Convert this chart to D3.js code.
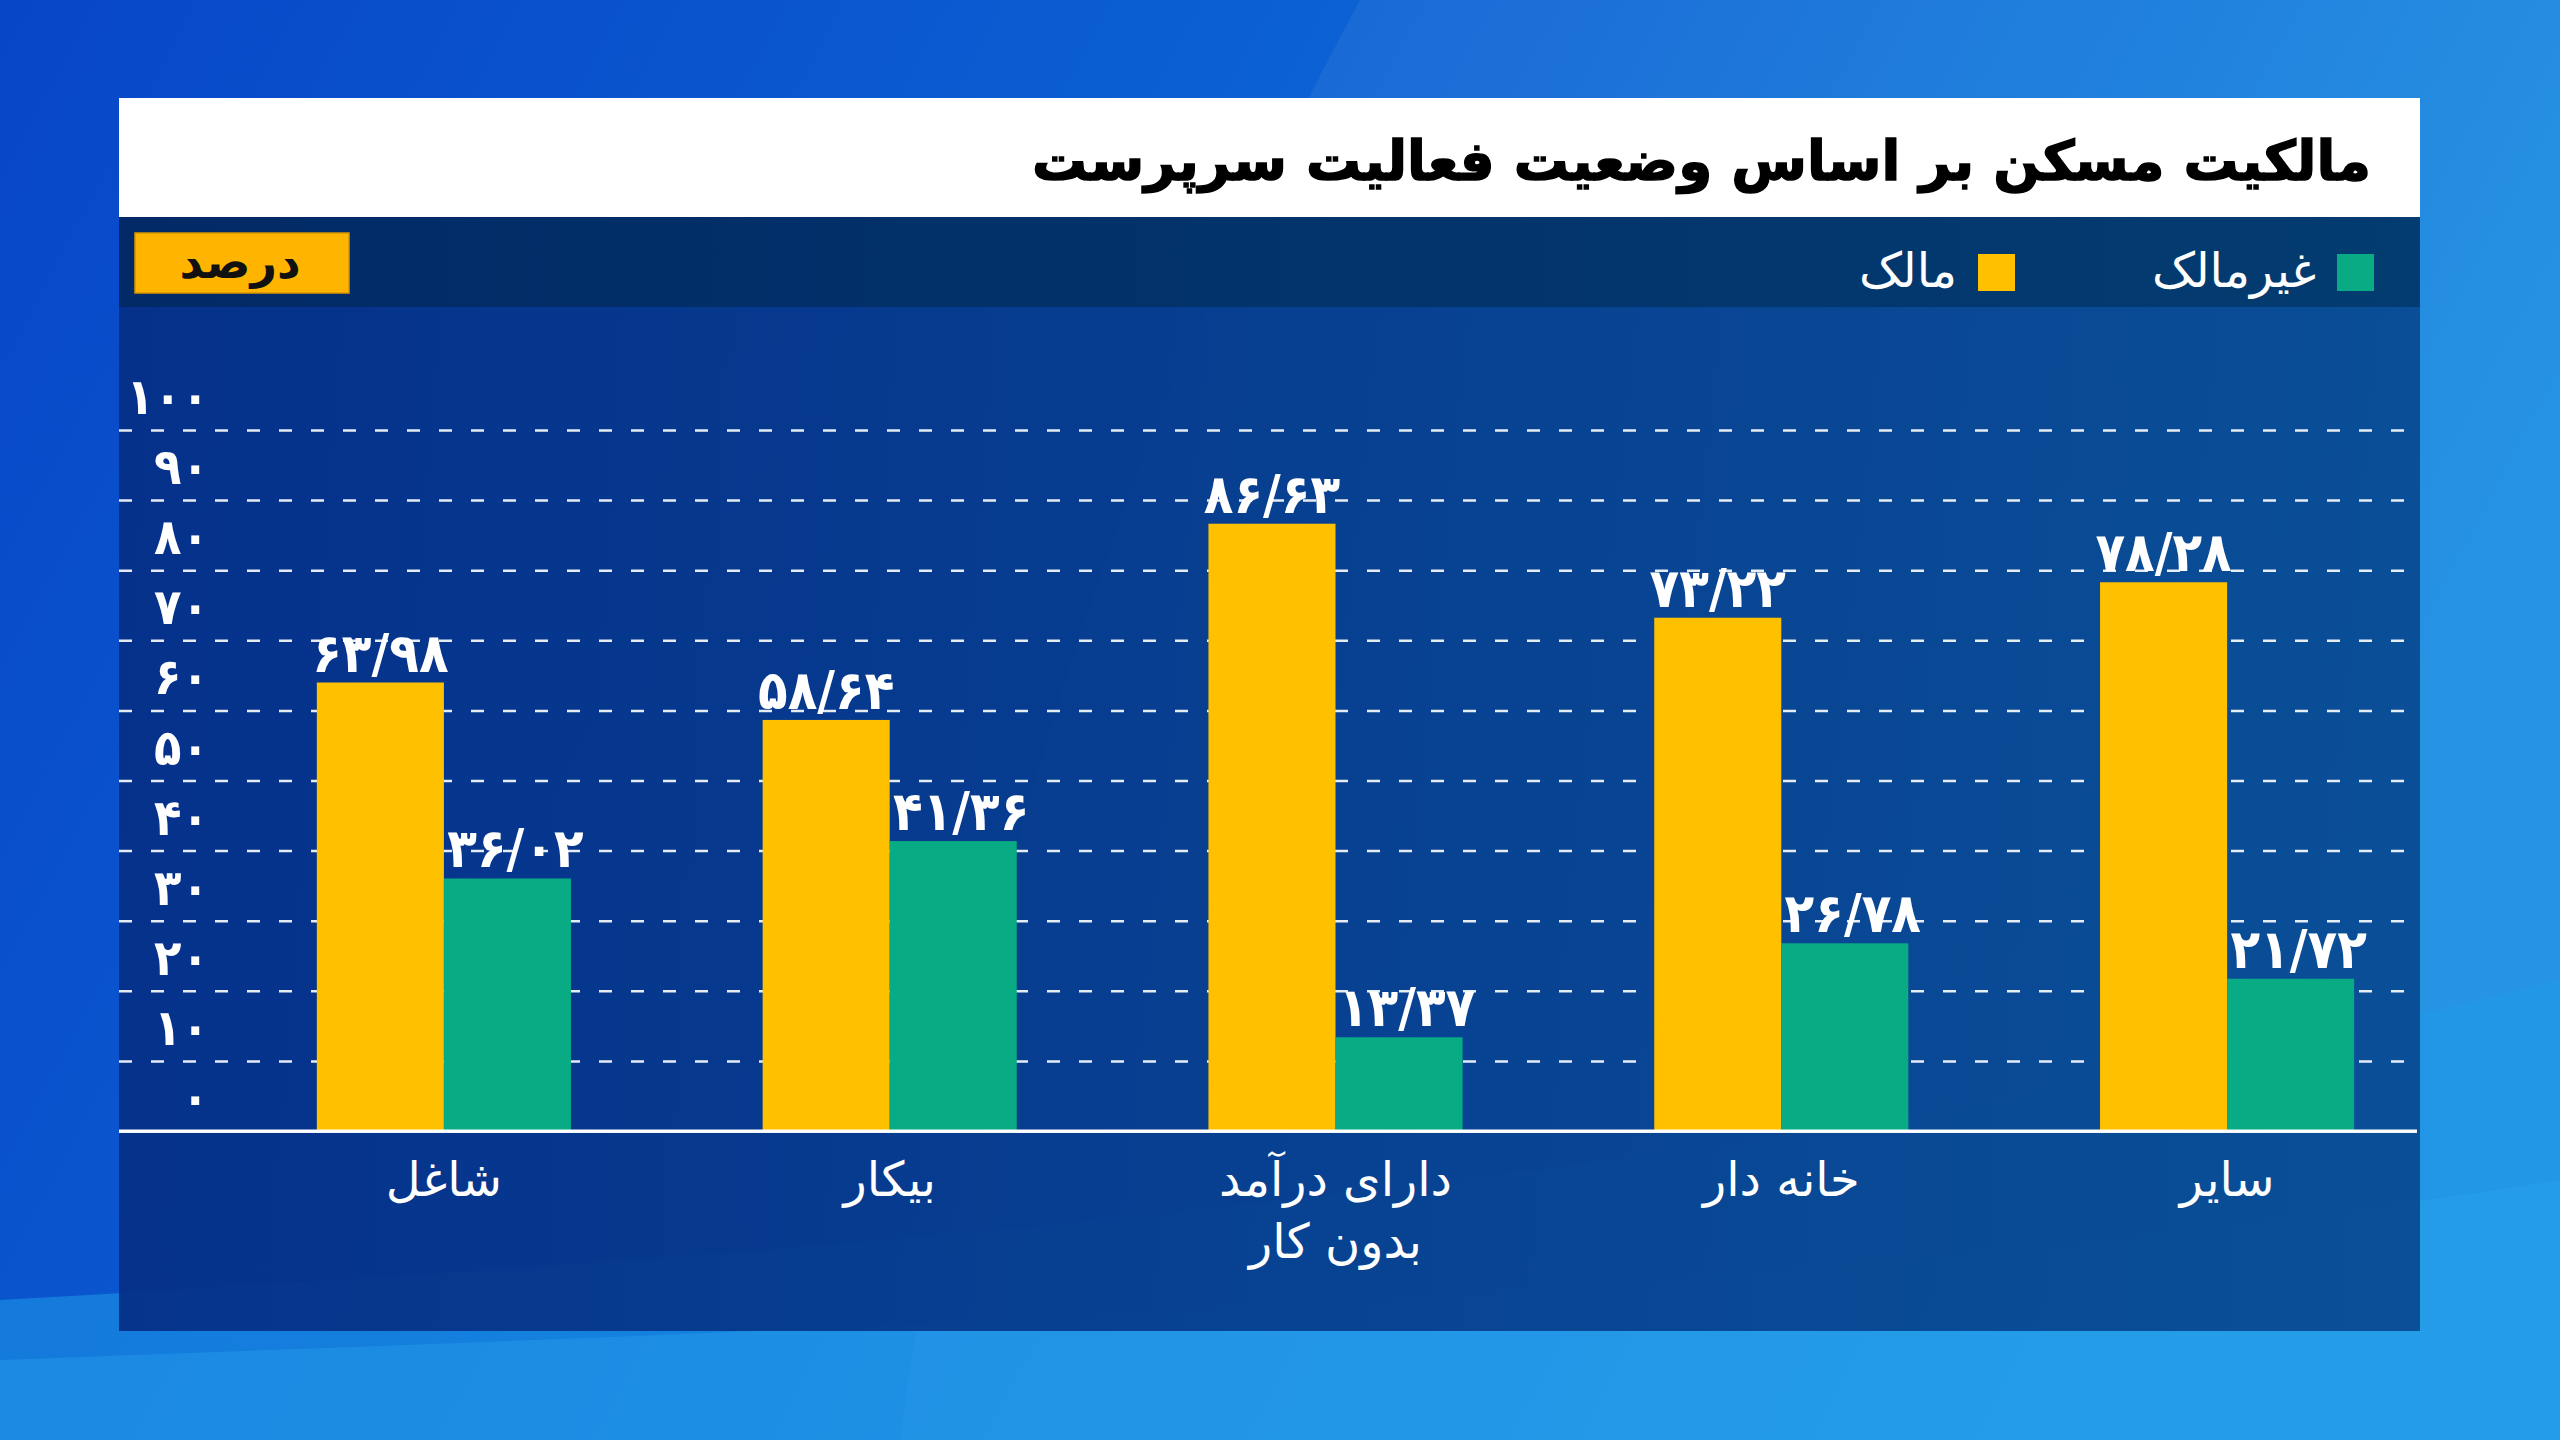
<!DOCTYPE html>
<html>
<head>
<meta charset="utf-8" />
<title>مالکیت مسکن</title>
<script src="https://cdn.jsdelivr.net/npm/d3@7"></script>
<style>
  body { margin: 0; background: #0a55d0; }
  svg { display: block; font-family: "DejaVu Sans", sans-serif; }
  .num { font-family: "DejaVu Sans Condensed", "DejaVu Sans", sans-serif; }
</style>
</head>
<body>
<script>
  // data
  var categories = ["شاغل", "بیکار", "دارای درآمد\nبدون کار", "خانه دار", "سایر"];
  var seriesNames = ["مالک", "غیرمالک"];
  var owner = [63.98, 58.64, 86.63, 73.22, 78.28];
  var nonOwner = [36.02, 41.36, 13.37, 26.78, 21.72];
  var yTicks = [0, 10, 20, 30, 40, 50, 60, 70, 80, 90, 100];
  var title = "مالکیت مسکن بر اساس وضعیت فعالیت سرپرست";
  var unitLabel = "درصد";

  var colors = { "مالک": "#ffc000", "غیرمالک": "#08ab83" };

  // persian digits
  function fa(s) {
    return String(s).replace(/[0-9]/g, function (d) { return "۰۱۲۳۴۵۶۷۸۹"[+d]; });
  }

  var W = 2560, H = 1440;
  var svg = d3.select("body").append("svg")
      .attr("width", W)
      .attr("height", H);

  var defs = svg.append("defs");
  var bg = defs.append("linearGradient").attr("id", "bg")
      .attr("x1", 0).attr("y1", 0).attr("x2", 1).attr("y2", 0.3);
  bg.append("stop").attr("offset", "0").attr("stop-color", "#0846c8");
  bg.append("stop").attr("offset", "0.5").attr("stop-color", "#0c62d4");
  bg.append("stop").attr("offset", "1").attr("stop-color", "#1a8de2");

  var body = defs.append("linearGradient").attr("id", "body")
      .attr("x1", 0).attr("y1", 0).attr("x2", 1).attr("y2", 0);
  body.append("stop").attr("offset", "0").attr("stop-color", "#052f86").attr("stop-opacity", 0.93);
  body.append("stop").attr("offset", "1").attr("stop-color", "#07478f").attr("stop-opacity", 0.9);

  var band = defs.append("linearGradient").attr("id", "band")
      .attr("x1", 0).attr("y1", 0).attr("x2", 1).attr("y2", 0);
  band.append("stop").attr("offset", "0").attr("stop-color", "#022a66");
  band.append("stop").attr("offset", "1").attr("stop-color", "#033c70");

  // background with soft swooshes
  svg.append("rect").attr("width", W).attr("height", H).attr("fill", "url(#bg)");
  svg.append("path")
      .attr("d", "M1360,0 C1200,300 1000,700 900,1440 L2560,1440 L2560,0 Z")
      .attr("fill", "#ffffff").attr("opacity", 0.06);
  svg.append("path")
      .attr("d", "M0,1300 C700,1260 1700,1200 2560,980 L2560,1440 L0,1440 Z")
      .attr("fill", "#1d9be8").attr("opacity", 0.55);
  svg.append("path")
      .attr("d", "M0,1360 C800,1330 1800,1300 2560,1180 L2560,1440 L0,1440 Z")
      .attr("fill", "#2aa6ee").attr("opacity", 0.35);

  // panel
  var px0 = 119, px1 = 2420;
  svg.append("rect").attr("x", px0).attr("y", 307).attr("width", px1 - px0).attr("height", 1331 - 307)
      .attr("fill", "url(#body)");
  svg.append("rect").attr("x", px0).attr("y", 217).attr("width", px1 - px0).attr("height", 90)
      .attr("fill", "url(#band)");
  svg.append("rect").attr("x", px0).attr("y", 98).attr("width", px1 - px0).attr("height", 119)
      .attr("fill", "#ffffff");

  // title, fitted to the width it takes in the picture
  var titleText = svg.append("text")
      .attr("x", 2371).attr("y", 180)
      .attr("text-anchor", "end")
      .attr("font-weight", "bold")
      .attr("font-size", 66)
      .attr("fill", "#000")
      .attr("stroke", "#000").attr("stroke-width", 1.5)
      .text(title);
  var tw = titleText.node().getComputedTextLength();
  titleText.attr("font-size", 66 * Math.min(1, 1339 / tw));

  // unit box
  svg.append("rect").attr("x", 135).attr("y", 233).attr("width", 214).attr("height", 60)
      .attr("fill", "#ffb400").attr("stroke", "#d99500").attr("stroke-width", 1.5);
  svg.append("text").attr("x", 240).attr("y", 278)
      .attr("text-anchor", "middle").attr("font-weight", "bold").attr("font-size", 46)
      .attr("fill", "#111").text(unitLabel);

  // legend
  var legendX = { "غیرمالک": 2374, "مالک": 2015 };
  var leg = svg.selectAll("g.legend")
      .data(seriesNames.slice().reverse())
      .enter().append("g")
      .attr("class", "legend")
      .attr("transform", function (d) { return "translate(" + legendX[d] + ",254)"; });
  leg.append("rect").attr("x", -37).attr("y", 0).attr("width", 37).attr("height", 37)
      .attr("fill", function (d) { return colors[d]; });
  leg.append("text").attr("x", -58).attr("y", 33)
      .attr("text-anchor", "end").attr("font-size", 48).attr("fill", "#fff")
      .text(function (d) { return d; });

  // scales
  var y = d3.scaleLinear().domain([0, 100]).range([1131, 430]);
  var x0 = d3.scaleBand().domain(categories).range([221, 2450])
      .paddingInner(0.43).paddingOuter(0.215);
  var x1 = d3.scaleBand().domain(seriesNames).range([0, x0.bandwidth()]);

  // grid + tick labels
  var axis = d3.axisLeft(y)
      .tickValues(yTicks)
      .tickSize(-(2417 - px0))
      .tickPadding(-90)
      .tickFormat(function (d) { return fa(d); });
  var ga = svg.append("g").attr("transform", "translate(" + px0 + ",0)").call(axis);
  ga.select(".domain").remove();
  ga.selectAll(".tick line")
      .attr("stroke", "#ffffff").attr("stroke-opacity", 0.9)
      .attr("stroke-width", 2.5).attr("stroke-dasharray", "13,19");
  ga.selectAll(".tick")
      .filter(function (d) { return d === 0; })
      .select("line").attr("stroke-dasharray", null).attr("stroke-width", 3);
  ga.selectAll(".tick text")
      .attr("class", "num")
      .attr("fill", "#fff").attr("font-size", 50).attr("font-weight", "bold")
      .attr("font-family", null)
      .attr("text-anchor", "end")
      .attr("y", -34).attr("dy", "0.35em");

  // bars
  var rows = categories.map(function (c, i) {
    return { cat: c, vals: [{ s: "مالک", v: owner[i] }, { s: "غیرمالک", v: nonOwner[i] }] };
  });
  var groups = svg.selectAll("g.grp")
      .data(rows)
      .enter().append("g")
      .attr("class", "grp")
      .attr("transform", function (d) { return "translate(" + x0(d.cat) + ",0)"; });

  groups.selectAll("rect")
      .data(function (d) { return d.vals; })
      .enter().append("rect")
      .attr("x", function (d) { return x1(d.s); })
      .attr("width", x1.bandwidth())
      .attr("y", function (d) { return y(d.v); })
      .attr("height", function (d) { return y(0) - y(d.v); })
      .attr("fill", function (d) { return colors[d.s]; });

  groups.selectAll("text.val")
      .data(function (d) { return d.vals; })
      .enter().append("text")
      .attr("class", "val num")
      .attr("x", function (d) { return x1(d.s) + x1.bandwidth() / 2 + (d.s === "غیرمالک" ? 8 : 0); })
      .attr("y", function (d) { return y(d.v) - 11; })
      .attr("text-anchor", "middle")
      .attr("font-size", 54).attr("font-weight", "bold").attr("fill", "#fff")
      .text(function (d) { return fa(d.v.toFixed(2)).replace(".", "/"); });

  // baseline on top of bars
  svg.append("line").attr("x1", px0).attr("x2", 2417).attr("y1", y(0)).attr("y2", y(0))
      .attr("stroke", "#fff").attr("stroke-width", 3);

  // category labels
  var cl = svg.selectAll("text.cat")
      .data(categories)
      .enter().append("text")
      .attr("class", "cat")
      .attr("x", function (d) { return x0(d) + x0.bandwidth() / 2; })
      .attr("y", 1196)
      .attr("text-anchor", "middle")
      .attr("font-size", 48).attr("fill", "#fff");
  cl.selectAll("tspan")
      .data(function (d) { return d.split("\n"); })
      .enter().append("tspan")
      .attr("x", function () { var p = this.parentNode.__data__; return x0(p) + x0.bandwidth() / 2; })
      .attr("dy", function (d, i) { return i === 0 ? 0 : 62; })
      .text(function (d) { return d; });
</script>
</body>
</html>
